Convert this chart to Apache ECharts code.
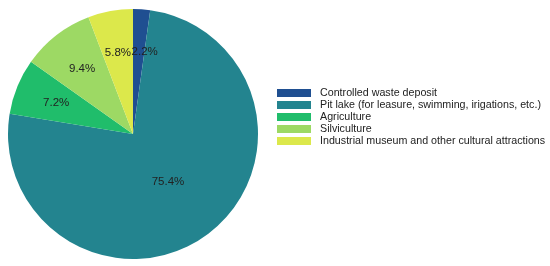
<!DOCTYPE html>
<html>
<head>
<meta charset="utf-8">
<script src="https://cdn.jsdelivr.net/npm/echarts@6/dist/echarts.min.js"></script>
<style>
  html, body { margin: 0; padding: 0; background: #fff; }
  #chart { width: 550px; height: 266px; }
</style>
</head>
<body>
<div id="chart"></div>
<script>
const categories = [
  'Controlled waste deposit',
  'Pit lake (for leasure, swimming, irigations, etc.)',
  'Agriculture',
  'Silviculture',
  'Industrial museum and other cultural attractions'
]
const shares = [2.2, 75.4, 7.2, 9.4, 5.8]
const colors = ['#1f4f91', '#23848f', '#20bd6b', '#9dd964', '#dce84b']

const radius = 125
const total = shares.reduce((a, b) => a + b, 0)

// push labels of small slices further out, like the original
let acc = 0
const data = categories.map((name, i) => {
  const mid = (acc + shares[i] / 2) / total * Math.PI * 2
  acc += shares[i]
  const labelR = shares[i] > 50 ? 56 : (shares[i] < 3 ? 79 : 80)
  const shift = labelR - radius / 2
  return {
    name,
    value: shares[i],
    itemStyle: { color: colors[i] },
    label: { offset: [Math.sin(mid) * shift + (shares[i] < 3 ? 6 : 0), -Math.cos(mid) * shift] }
  }
})

const chart = echarts.init(document.getElementById('chart'))
chart.setOption({
  animation: false,
  legend: {
    orient: 'vertical',
    left: 277,
    top: 87,
    padding: 0,
    itemWidth: 34,
    itemHeight: 8,
    itemGap: 0,
    icon: 'rect',
    selectedMode: false,
    textStyle: {
      fontFamily: 'Liberation Sans, Arial',
      fontSize: 10.7,
      color: '#222',
      lineHeight: 12,
      padding: [0, 0, 0, 4]
    },
    data: categories
  },
  series: [
    {
      type: 'pie',
      center: [133, 134],
      radius: radius,
      startAngle: 90,
      clockwise: true,
      silent: true,
      avoidLabelOverlap: false,
      minShowLabelAngle: 0,
      labelLayout: { hideOverlap: false },
      label: {
        show: true,
        position: 'inside',
        formatter: p => p.value.toFixed(1) + '%',
        fontFamily: 'Liberation Sans, Arial',
        fontSize: 11.5,
        color: '#222'
      },
      labelLine: { show: false },
      data
    }
  ]
})
</script>
</body>
</html>
